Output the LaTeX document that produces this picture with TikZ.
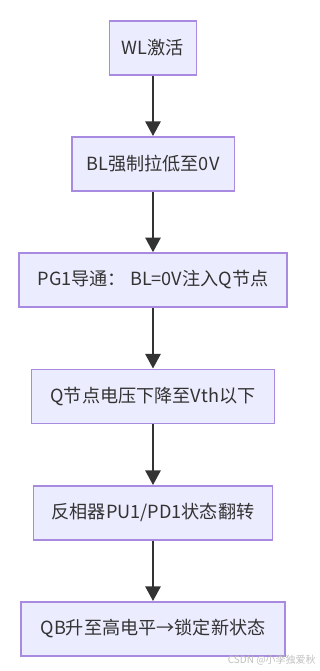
\documentclass[tikz,border=0pt]{standalone}
\usepackage{fontspec}
\setmainfont{Noto Sans CJK SC}
\usetikzlibrary{arrows.meta}
\definecolor{boxfill}{HTML}{ECECFF}
\definecolor{boxline}{HTML}{A88BE0}
\definecolor{arrowc}{HTML}{333333}
\begin{document}
\begin{tikzpicture}[x=0.75pt,y=-0.75pt,
  flowbox/.style={draw=boxline,fill=boxfill,line width=1.2pt,minimum height=40.5pt,inner sep=0pt,font=\fontsize{13.6}{15}\selectfont,text=arrowc},
  flowarrow/.style={draw=arrowc,line width=1.5pt,-{Triangle[length=11pt,width=11.5pt]}},
  wm/.style={text=black!25,font=\fontsize{7.5}{9}\selectfont,inner sep=0pt}]
\useasboundingbox (0,0) rectangle (320,671);
\node[flowbox,minimum width=86.7*0.75pt] (n1) at (153,47.8) {WL激活};
\node[flowbox,minimum width=162.6*0.75pt] (n2) at (153,163.8) {BL强制拉低至0V};
\node[flowbox,minimum width=268.4*0.75pt] (n3) at (153,280) {PG1导通：\ BL=0V注入Q节点};
\node[flowbox,minimum width=243.3*0.75pt] (n4) at (153,396.3) {Q节点电压下降至Vth以下};
\node[flowbox,minimum width=238.7*0.75pt] (n5) at (153,512.8) {反相器PU1/PD1状态翻转};
\node[flowbox,minimum width=264.3*0.75pt] (n6) at (153,628.8) {QB升至高电平→锁定新状态};
\draw[flowarrow] (n1) -- (n2);
\draw[flowarrow] (n2) -- (n3);
\draw[flowarrow] (n3) -- (n4);
\draw[flowarrow] (n4) -- (n5);
\draw[flowarrow] (n5) -- (n6);
\node[wm,anchor=east] (wm) at (316,660) {CSDN @小李独爱秋};
\end{tikzpicture}
\end{document}
